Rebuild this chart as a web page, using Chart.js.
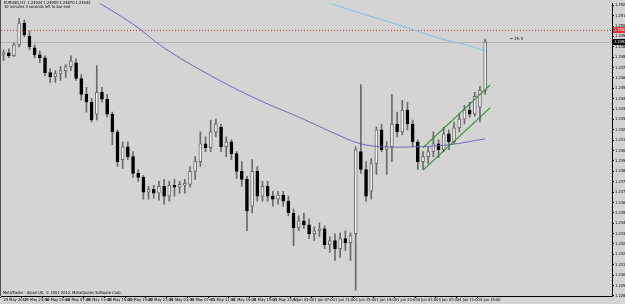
<!DOCTYPE html>
<html>
<head>
<meta charset="utf-8">
<script src="https://cdn.jsdelivr.net/npm/chart.js@4.4.0/dist/chart.umd.min.js"></script>
<style>
  html, body { margin: 0; padding: 0; background: #d4d4d4; overflow: hidden; }
  #wrap { width: 625px; height: 304px; }
</style>
</head>
<body>
<div id="wrap"><canvas id="chart" width="625" height="304"></canvas></div>
<script>
// EURUSD H1, 29 May 19:00 .. 4 Jun 16:00
const sessions = [['29 May', 19, 23], ['30 May', 0, 23], ['31 May', 0, 23], ['1 Jun', 0, 23], ['4 Jun', 0, 16]];
const futureBars = 24;

const opens = [
  1.24824, 1.2484, 1.24816, 1.24904, 1.2508, 1.24976, 1.2488, 1.24824, 1.248, 1.2468,
  1.24648, 1.24672, 1.24696, 1.24728, 1.2476, 1.24632, 1.24504, 1.2444, 1.24344, 1.2452,
  1.24464, 1.24344, 1.242, 1.23976, 1.2408, 1.24, 1.23864, 1.23832, 1.23712, 1.23736,
  1.23704, 1.2376, 1.2368, 1.23768, 1.23752, 1.23768, 1.23776, 1.2388, 1.2396, 1.24104,
  1.24072, 1.242, 1.2424, 1.2408, 1.2412, 1.24024, 1.2388, 1.23816, 1.236, 1.2388,
  1.2368, 1.2376, 1.2368, 1.23656, 1.23688, 1.2364, 1.23544, 1.23424, 1.2348, 1.23448,
  1.23376, 1.234, 1.23416, 1.23288, 1.2332, 1.23256, 1.23336, 1.23304, 1.23376, 1.2404,
  1.23896, 1.2372, 1.23944, 1.24216, 1.24056, 1.2408, 1.24264, 1.242, 1.24376, 1.24264,
  1.2412, 1.2396, 1.24, 1.2404, 1.24104, 1.24056, 1.24184, 1.2412, 1.24232, 1.24304,
  1.24376, 1.24344, 1.244, 1.24536
];
const highs = [
  1.24864, 1.24872, 1.2492, 1.2512, 1.25104, 1.25016, 1.24904, 1.24856, 1.24816, 1.24712,
  1.24696, 1.24728, 1.24744, 1.24816, 1.24792, 1.24664, 1.2456, 1.24472, 1.24736, 1.2456,
  1.24504, 1.2436, 1.24216, 1.2412, 1.2412, 1.2404, 1.23896, 1.23848, 1.2376, 1.23768,
  1.238, 1.23816, 1.238, 1.23816, 1.238, 1.23816, 1.2392, 1.24, 1.242, 1.2416,
  1.24296, 1.24304, 1.24264, 1.2416, 1.24136, 1.2404, 1.2396, 1.2384, 1.23976, 1.2392,
  1.238, 1.238, 1.2372, 1.2372, 1.2372, 1.2368, 1.23576, 1.2352, 1.23544, 1.23496,
  1.23432, 1.23464, 1.2344, 1.23352, 1.23376, 1.23384, 1.234, 1.23384, 1.2408, 1.24584,
  1.2396, 1.23984, 1.2424, 1.24264, 1.2412, 1.24504, 1.2436, 1.24456, 1.2444, 1.24296,
  1.24136, 1.2404, 1.2408, 1.242, 1.24136, 1.2424, 1.24216, 1.2428, 1.24344, 1.24416,
  1.2444, 1.2452, 1.24568, 1.24952
];
const lows = [
  1.24776, 1.248, 1.24808, 1.24888, 1.24968, 1.24864, 1.248, 1.2476, 1.24656, 1.246,
  1.246, 1.24616, 1.2464, 1.24696, 1.24616, 1.24456, 1.2436, 1.2428, 1.24296, 1.2444,
  1.2432, 1.24096, 1.2392, 1.23904, 1.23976, 1.23832, 1.238, 1.23656, 1.23656, 1.23664,
  1.23648, 1.23616, 1.2364, 1.2368, 1.23704, 1.23704, 1.23752, 1.23816, 1.2392, 1.2404,
  1.2404, 1.2416, 1.2404, 1.24, 1.23976, 1.23824, 1.2376, 1.234, 1.23544, 1.2364,
  1.2364, 1.2364, 1.236, 1.23616, 1.236, 1.2352, 1.2328, 1.234, 1.23416, 1.23336,
  1.2332, 1.23352, 1.23256, 1.23224, 1.2316, 1.23184, 1.2324, 1.2316, 1.2292, 1.23864,
  1.2364, 1.23656, 1.23856, 1.2404, 1.23856, 1.2396, 1.2416, 1.24176, 1.24216, 1.2408,
  1.23896, 1.23896, 1.23944, 1.24, 1.23992, 1.2404, 1.24056, 1.24104, 1.242, 1.24264,
  1.2432, 1.24328, 1.2428, 1.24504
];
const closes = [
  1.2484, 1.24816, 1.24904, 1.2508, 1.24984, 1.24888, 1.24824, 1.248, 1.2468, 1.24648,
  1.24672, 1.24696, 1.24728, 1.24776, 1.24632, 1.24504, 1.2444, 1.24296, 1.2452, 1.24464,
  1.24344, 1.242, 1.2396, 1.2408, 1.24, 1.23864, 1.23832, 1.23712, 1.23736, 1.23704,
  1.2376, 1.2368, 1.23768, 1.23752, 1.23776, 1.23784, 1.2388, 1.2396, 1.24104, 1.24072,
  1.242, 1.24264, 1.2408, 1.2412, 1.24024, 1.2388, 1.23816, 1.2356, 1.2388, 1.2368,
  1.2376, 1.2368, 1.23656, 1.23688, 1.2364, 1.23544, 1.23424, 1.2348, 1.23448, 1.23376,
  1.234, 1.23416, 1.23288, 1.2332, 1.23256, 1.23336, 1.23304, 1.2336, 1.24056, 1.23896,
  1.2368, 1.23944, 1.24216, 1.24056, 1.2408, 1.24264, 1.242, 1.24376, 1.24264, 1.2412,
  1.2396, 1.24, 1.2404, 1.24104, 1.24056, 1.24184, 1.2412, 1.24232, 1.24304, 1.24376,
  1.24344, 1.24488, 1.24536, 1.24928
];

// moving averages, sampled at a few bars
const slowMa = [
  { x: '30 May 12:00', y: 1.2528 }, { x: '30 May 20:00', y: 1.25072 }, { x: '31 May 02:00', y: 1.2488 },
  { x: '31 May 11:00', y: 1.24656 }, { x: '31 May 20:00', y: 1.24464 }, { x: '1 Jun 04:00', y: 1.2432 },
  { x: '1 Jun 12:00', y: 1.24168 }, { x: '1 Jun 16:00', y: 1.24104 }, { x: '1 Jun 20:00', y: 1.2408 },
  { x: '4 Jun 03:00', y: 1.2408 }, { x: '4 Jun 09:00', y: 1.24096 }, { x: '4 Jun 16:00', y: 1.24144 }
];
const fastMa = [
  { x: '1 Jun 09:00', y: 1.25256 }, { x: '1 Jun 16:00', y: 1.2516 }, { x: '4 Jun 00:00', y: 1.25056 },
  { x: '4 Jun 07:00', y: 1.2496 }, { x: '4 Jun 13:00', y: 1.24896 }, { x: '4 Jun 16:00', y: 1.24856 }
];
const channelTop = [{ x: '4 Jun 04:00', y: 1.24072 }, { x: '+1', y: 1.24581 }];
const channelBottom = [{ x: '4 Jun 04:00', y: 1.23891 }, { x: '+1', y: 1.24397 }];

const alertLevel = 1.25024;
const bidLevel = 1.24928;

const priceTicks = [
  1.25225, 1.25141, 1.25057, 1.24973, 1.24889, 1.24805, 1.24721, 1.24637, 1.24553, 1.24469,
  1.24385, 1.24301, 1.24217, 1.24133, 1.24049, 1.23965, 1.23881, 1.23797, 1.23713, 1.23629,
  1.23545, 1.23461, 1.23377, 1.23293, 1.23209, 1.23125, 1.23041, 1.22957, 1.22873
];
const timeTicks = [
  '29 May 2012', '29 May 23:00', '30 May 03:00', '30 May 07:00', '30 May 11:00', '30 May 15:00',
  '30 May 19:00', '30 May 23:00', '31 May 03:00', '31 May 07:00', '31 May 11:00', '31 May 15:00',
  '31 May 19:00', '31 May 23:00', '1 Jun 03:00', '1 Jun 07:00', '1 Jun 11:00', '1 Jun 15:00',
  '1 Jun 19:00', '1 Jun 23:00', '4 Jun 03:00', '4 Jun 07:00', '4 Jun 11:00', '4 Jun 15:00'
];

const headerText = ['EURUSD,H1  1.24934 1.24959 1.24870 1.24942', '10 minutes 3 seconds left to bar end'];
const footerText = 'MetaTrader - Alpari UK, \u00a9 2001-2012, MetaQuotes Software Corp.';
const noteText = '\u2190 25: 5';

const labels = [];
sessions.forEach(([day, from, to]) => {
  for (let h = from; h <= to; h++) labels.push(day + ' ' + String(h).padStart(2, '0') + ':00');
});
for (let i = 0; i < futureBars; i++) labels.push('+' + (i + 1));

const tinyFont = "'Liberation Sans Narrow', 'DejaVu Sans Condensed', sans-serif";
const bull = closes.map((c, i) => c >= opens[i]);

const overlay = {
  id: 'overlay',
  beforeDatasetsDraw(chart) {
    const { ctx, chartArea: a, scales: { y } } = chart;
    ctx.save();
    // bid line
    let py = Math.round(y.getPixelForValue(bidLevel)) + 0.5;
    ctx.strokeStyle = '#b4b4b4';
    ctx.lineWidth = 1;
    ctx.beginPath(); ctx.moveTo(a.left, py); ctx.lineTo(a.right, py); ctx.stroke();
    // alert line
    py = Math.round(y.getPixelForValue(alertLevel)) + 0.5;
    ctx.strokeStyle = '#c83c3c';
    ctx.setLineDash([1, 2]);
    ctx.beginPath(); ctx.moveTo(a.left, py); ctx.lineTo(a.right, py); ctx.stroke();
    ctx.restore();
  },
  afterDraw(chart) {
    const { ctx, chartArea: a, scales: { y } } = chart;
    ctx.save();
    ctx.font = '4px ' + tinyFont;
    ctx.textBaseline = 'middle';
    ctx.fillStyle = '#000';
    ctx.fillText(headerText[0], a.left + 3, 3);
    ctx.fillText(headerText[1], a.left + 3, 7);
    ctx.fillText(footerText, a.left + 2, a.bottom - 3);
    ctx.fillText(noteText, 510, y.getPixelForValue(1.2495));

    // price boxes on the axis
    [[alertLevel, '#e03030', '#fff'], [bidLevel, '#000', '#fff']].forEach(([v, bg, fg]) => {
      const py = y.getPixelForValue(v);
      ctx.fillStyle = bg;
      ctx.fillRect(a.right + 1, py - 3, 14, 6);
      ctx.fillStyle = fg;
      ctx.fillText(v.toFixed(5), a.right + 2, py);
    });
    // left frame
    ctx.fillStyle = '#505050';
    ctx.fillRect(0, 0, 1, a.bottom);
    ctx.restore();
  }
};

new Chart(document.getElementById('chart'), {
  type: 'bar',
  data: {
    labels: labels,
    datasets: [
      {
        label: 'wicks',
        data: lows.map((l, i) => [l, highs[i]]),
        backgroundColor: '#6a6a6a',
        barThickness: 1,
        grouped: false,
        order: 3
      },
      {
        label: 'bodies',
        data: opens.map((o, i) => [o, closes[i]]),
        backgroundColor: bull.map(b => b ? '#f4f4f4' : '#000000'),
        borderColor: bull.map(b => b ? '#6a6a6a' : '#000000'),
        borderWidth: 1,
        borderSkipped: false,
        barThickness: 3,
        grouped: false,
        order: 2
      },
      {
        type: 'line', label: 'slow MA', data: slowMa,
        borderColor: '#6b6bb0', borderWidth: 1, pointRadius: 0, tension: 0.4, order: 1
      },
      {
        type: 'line', label: 'fast MA', data: fastMa,
        borderColor: '#7cc4e4', borderWidth: 1, pointRadius: 0, tension: 0.4, order: 1
      },
      {
        type: 'line', label: 'channel top', data: channelTop,
        borderColor: '#2d8a2d', borderWidth: 1.1, pointRadius: 0, order: 0
      },
      {
        type: 'line', label: 'channel bottom', data: channelBottom,
        borderColor: '#2d8a2d', borderWidth: 1.1, pointRadius: 0, order: 0
      }
    ]
  },
  options: {
    responsive: false,
    animation: false,
    devicePixelRatio: 1,
    layout: { padding: { left: 1, top: 0, right: 0, bottom: 0 } },
    plugins: { legend: { display: false }, tooltip: { enabled: false } },
    scales: {
      x: {
        type: 'category',
        offset: true,
        grid: {
          drawOnChartArea: false,
          tickLength: 2,
          color: c => (c.index % 4 === 0 && c.index < opens.length) ? '#000' : 'rgba(0,0,0,0)'
        },
        border: { color: '#000', width: 1 },
        ticks: {
          autoSkip: false,
          maxRotation: 0,
          align: 'start',
          padding: 0,
          color: '#000',
          font: { size: 4, family: tinyFont },
          callback: (v, i) => (i % 4 === 0 && i / 4 < timeTicks.length) ? timeTicks[i / 4] : ''
        },
        afterFit: s => { s.height = 8; }
      },
      y: {
        position: 'right',
        min: 1.22872,
        max: 1.2524,
        grid: { drawOnChartArea: false, tickLength: 2, color: '#000' },
        border: { color: '#000', width: 1 },
        afterBuildTicks: s => { s.ticks = priceTicks.map(v => ({ value: v })); },
        ticks: {
          padding: 1,
          color: '#000',
          font: { size: 4, family: tinyFont },
          callback: v => Number(v).toFixed(5)
        },
        afterFit: s => { s.width = 13; }
      }
    }
  },
  plugins: [overlay]
});
</script>
</body>
</html>
